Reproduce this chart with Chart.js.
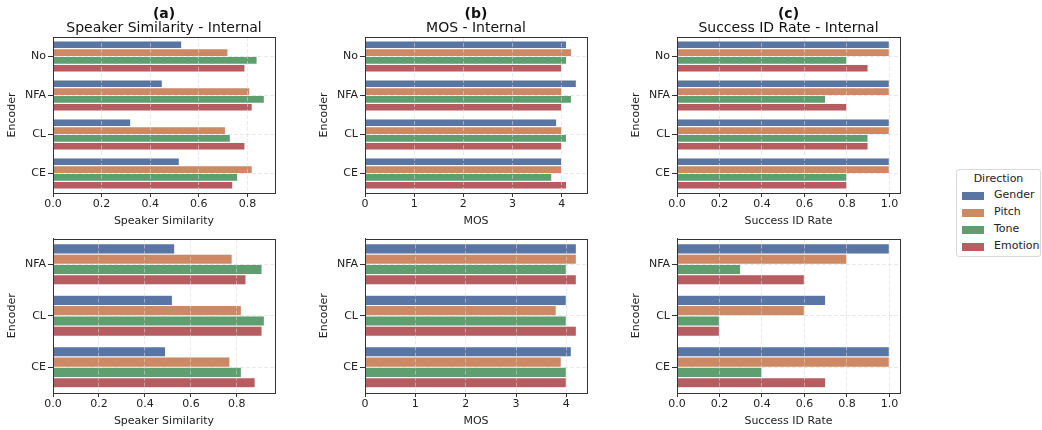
<!DOCTYPE html>
<html>
<head>
<meta charset="utf-8">
<script src="https://cdn.jsdelivr.net/npm/chart.js@4.4.0/dist/chart.umd.min.js"></script>
<style>
  body{ margin:0; background:#fff; width:1042px; height:430px; position:relative; overflow:hidden; font-family:"DejaVu Sans", sans-serif; }
  .cv{ position:absolute; }
  #legend{ position:absolute; left:956px; top:169px; width:85px; height:88px; border:1px solid #d8d8d8; border-radius:3px; box-sizing:border-box; font-size:11px; color:#222; }
  #legend .ttl{ position:absolute; left:0; width:100%; top:2px; text-align:center; white-space:nowrap; }
  #legend .sw{ position:absolute; left:5px; width:22px; height:8px; }
  #legend .lb{ position:absolute; left:37px; white-space:nowrap; }
</style>
</head>
<body>
<div class="cv" style="left:0;top:0;width:328px;height:230px"><canvas id="cA1"></canvas></div>
<div class="cv" style="left:312px;top:0;width:328px;height:230px"><canvas id="cB1"></canvas></div>
<div class="cv" style="left:624px;top:0;width:329px;height:230px"><canvas id="cC1"></canvas></div>
<div class="cv" style="left:0;top:230px;width:328px;height:200px"><canvas id="cA2"></canvas></div>
<div class="cv" style="left:312px;top:230px;width:328px;height:200px"><canvas id="cB2"></canvas></div>
<div class="cv" style="left:624px;top:230px;width:329px;height:200px"><canvas id="cC2"></canvas></div>
<div id="legend"></div>
<script>
// ---- data ----
const directions = ["Gender", "Pitch", "Tone", "Emotion"];
const colors = ["#5975a4", "#cc8963", "#5f9e6e", "#b55d60"];

const encodersTop = ["No", "NFA", "CL", "CE"];
const encodersBottom = ["NFA", "CL", "CE"];

// top row (internal) - one array per direction, ordered like encodersTop
const simTop = {
  Gender:  [0.53, 0.45, 0.32, 0.52],
  Pitch:   [0.72, 0.81, 0.71, 0.82],
  Tone:    [0.84, 0.87, 0.73, 0.76],
  Emotion: [0.79, 0.82, 0.79, 0.74]
};
const mosTop = {
  Gender:  [4.1, 4.3, 3.9, 4.0],
  Pitch:   [4.2, 4.0, 4.0, 4.0],
  Tone:    [4.1, 4.2, 4.1, 3.8],
  Emotion: [4.0, 4.0, 4.0, 4.1]
};
const sidTop = {
  Gender:  [1.0, 1.0, 1.0, 1.0],
  Pitch:   [1.0, 1.0, 1.0, 1.0],
  Tone:    [0.8, 0.7, 0.9, 0.8],
  Emotion: [0.9, 0.8, 0.9, 0.8]
};

// bottom row - ordered like encodersBottom
const simBottom = {
  Gender:  [0.53, 0.52, 0.49],
  Pitch:   [0.78, 0.82, 0.77],
  Tone:    [0.91, 0.92, 0.82],
  Emotion: [0.84, 0.91, 0.88]
};
const mosBottom = {
  Gender:  [4.2, 4.0, 4.1],
  Pitch:   [4.2, 3.8, 3.9],
  Tone:    [4.0, 4.0, 4.0],
  Emotion: [4.2, 4.2, 4.0]
};
const sidBottom = {
  Gender:  [1.0, 0.7, 1.0],
  Pitch:   [0.8, 0.6, 1.0],
  Tone:    [0.3, 0.2, 0.4],
  Emotion: [0.6, 0.2, 0.7]
};

const FONT = "'DejaVu Sans', sans-serif";
Chart.defaults.font.family = FONT;
Chart.defaults.color = "#222";

// matplotlib-like frame (all four spines)
const framePlugin = {
  id: "frame",
  afterDraw(chart){
    const a = chart.chartArea, c = chart.ctx;
    c.save();
    c.setLineDash([]);
    c.strokeStyle = "#333";
    c.lineWidth = 1;
    c.strokeRect(Math.round(a.left)+0.5, Math.round(a.top)+0.5, Math.round(a.right-a.left), Math.round(a.bottom-a.top));
    c.restore();
  }
};

const AXIS_W = 53;

function makePanel(id, cats, series, opts){
  const datasets = directions.map((d, i) => ({
    label: d,
    data: series[d],
    backgroundColor: colors[i],
    borderColor: "rgba(235,235,245,0.5)",
    borderWidth: 0.6,
    categoryPercentage: 0.8,
    barPercentage: 1.0
  }));
  const hasTitle = !!opts.letter;
  const gridCfg = extra => Object.assign({ color: "rgba(215,215,215,0.7)", lineWidth: 0.8, z: 1, tickColor: "#333", tickWidth: 1 }, extra);
  return new Chart(document.getElementById(id), {
    type: "bar",
    data: { labels: cats, datasets },
    options: {
      indexAxis: "y",
      responsive: true,
      maintainAspectRatio: false,
      animation: false,
      layout: { padding: { left: 0, right: 0, top: hasTitle ? 0 : 7, bottom: 0 } },
      plugins: {
        legend: { display: false },
        tooltip: { enabled: false },
        title: hasTitle ? { display: true, text: opts.letter, font: { size: 14, weight: "bold", lineHeight: 1.0 }, color: "#111", padding: { top: 7, bottom: 0 } } : { display: false },
        subtitle: hasTitle ? { display: true, text: opts.title, font: { size: 14, lineHeight: 1.0 }, color: "#111", padding: { top: 0, bottom: 2 } } : { display: false }
      },
      scales: {
        x: {
          min: 0, max: opts.max,
          ticks: { stepSize: opts.step, includeBounds: false, font: { size: 11 }, color: "#222", padding: 1,
                   callback: v => opts.step >= 1 ? String(v) : Number(v).toFixed(1) },
          grid: gridCfg({ tickLength: 4 }),
          border: { color: "#333", width: 1, dash: [4, 2], z: 2 },
          title: { display: true, text: opts.xlabel, font: { size: 11 }, color: "#222", padding: { top: 0, bottom: 2 } },
          afterFit: s => { s.height = 37; }
        },
        y: {
          ticks: { font: { size: 11 }, color: "#222", padding: 2 },
          grid: gridCfg({ offset: false, tickLength: 5 }),
          border: { color: "#333", width: 1, dash: [4, 2], z: 2 },
          title: { display: true, text: "Encoder", font: { size: 11 }, color: "#222", padding: { top: 6, bottom: 0 } },
          afterFit: s => { s.width = AXIS_W; }
        },
        // empty right axis of the same width, so the titles centre over the plot area
        yPad: {
          type: "linear", position: "right", display: true,
          ticks: { display: false }, grid: { display: false, drawTicks: false }, border: { display: false },
          afterFit: s => { s.width = AXIS_W; }
        }
      }
    },
    plugins: [framePlugin]
  });
}

makePanel("cA1", encodersTop, simTop, { letter: "(a)", title: "Speaker Similarity - Internal", xlabel: "Speaker Similarity", max: 0.9135, step: 0.2 });
makePanel("cB1", encodersTop, mosTop, { letter: "(b)", title: "MOS - Internal", xlabel: "MOS", max: 4.515, step: 1 });
makePanel("cC1", encodersTop, sidTop, { letter: "(c)", title: "Success ID Rate - Internal", xlabel: "Success ID Rate", max: 1.05, step: 0.2 });
makePanel("cA2", encodersBottom, simBottom, { xlabel: "Speaker Similarity", max: 0.966, step: 0.2 });
makePanel("cB2", encodersBottom, mosBottom, { xlabel: "MOS", max: 4.41, step: 1 });
makePanel("cC2", encodersBottom, sidBottom, { xlabel: "Success ID Rate", max: 1.05, step: 0.2 });

// legend
const leg = document.getElementById("legend");
let html = '<div class="ttl">Direction</div>';
directions.forEach((d, i) => {
  const y = 21 + i * 17;
  html += `<span class="sw" style="top:${y + 1}px;background:${colors[i]}"></span><span class="lb" style="top:${y - 3}px">${d}</span>`;
});
leg.innerHTML = html;
</script>
</body>
</html>
